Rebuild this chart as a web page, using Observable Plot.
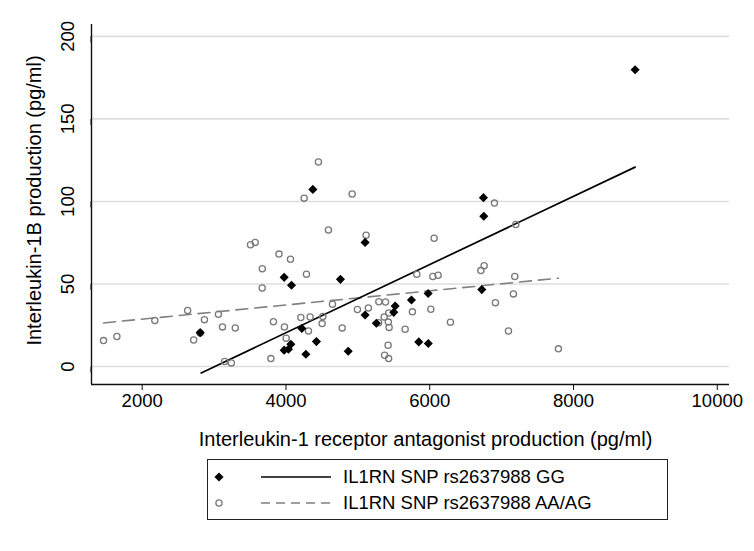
<!DOCTYPE html>
<html><head><meta charset="utf-8">
<script src="https://cdn.jsdelivr.net/npm/d3@7"></script>
<script src="https://cdn.jsdelivr.net/npm/@observablehq/plot@0.6"></script>
<style>
body{margin:0;background:#fff;font-family:"Liberation Sans",Arial,sans-serif;}
#wrap{position:relative;width:754px;height:551px;overflow:hidden;}
#wrap svg{position:absolute;left:0;top:0;}
#legend{position:absolute;left:207px;top:459px;width:461px;height:61px;border:1.3px solid #222;box-sizing:border-box;background:#fff;}
</style></head><body><div id="wrap"></div>
<script>
// GG group (filled diamonds)
const ggX = [2807,3975,4077,4374,4221,3975,4035,4068,4277,4424,4758,4866,5101,5101,5257,5519,5500,5746,5848,5980,5978,6724,6747,6752,8857];
const ggY = [20.5,54,49.2,107.3,23.1,9.9,10.5,13.5,7.4,15.1,52.8,9.2,75.2,31.2,26.2,36.6,32.8,40.3,14.9,13.9,44.2,46.6,102.3,91,179.8];
// AA/AG group (open circles)
const agX = [1462,1648,2176,2632,2716,2807,2866,3061,3117,3295,3148,3240,3507,3572,3671,3669,3903,4063,4253,4921,4591,4285,5115,3826,3979,4003,3790,4207,4336,4313,4513,4503,4647,4782,4994,5146,5292,5385,5366,5430,5289,5424,5435,5658,5421,5372,5428,5759,5820,6015,6043,6117,6061,6288,6711,6757,6900,7197,7183,7164,6914,7095,7790,4452];
const agY = [15.7,18.2,27.8,33.9,16.1,20.3,28.4,31.7,24,23.3,3,2.2,73.8,75.2,59.3,47.6,68.1,65,102,104.5,82.7,55.9,79.5,27.1,23.9,17.1,4.8,29.7,30,21.5,30.3,26,37.7,23.4,34.5,35.5,39.2,39.1,30,32.4,26.5,26.9,23.7,22.6,12.9,6.8,4.8,33.1,55.9,34.7,54.5,55.3,77.7,26.8,58.1,61.1,99,86,54.5,44,38.7,21.5,10.7,123.9];
// fitted lines (endpoints)
const ggFitX = [2821,8857];
const ggFitY = [-3.9,120.8];
const agFitX = [1462,7790];
const agFitY = [26.4,53.5];
const xTicks = [2000,4000,6000,8000,10000];
const yTicks = [0,50,100,150,200];
const xDomain = [1295,10170];
const yDomain = [-10.9,207.2];
const xTitle = "Interleukin-1 receptor antagonist production (pg/ml)";
const yTitle = "Interleukin-1B production (pg/ml)";
const seriesLabels = ["IL1RN SNP rs2637988 GG","IL1RN SNP rs2637988 AA/AG"];

const gg = ggX.map((x,i)=>({x, y: ggY[i]}));
const ag = agX.map((x,i)=>({x, y: agY[i]}));
const ggFit = ggFitX.map((x,i)=>({x, y: ggFitY[i]}));
const agFit = agFitX.map((x,i)=>({x, y: agFitY[i]}));

const font = '"Liberation Sans", Arial, sans-serif';
const chart = Plot.plot({
  width: 754, height: 551,
  marginLeft: 91, marginRight: 25, marginTop: 24, marginBottom: 167,
  x: {domain: xDomain},
  y: {domain: yDomain},
  style: {fontFamily: font, fontSize: "18.5px", color: "#000", background: "transparent"},
  marks: [
    Plot.gridY(yTicks, {stroke: "#dedede", strokeOpacity: 1, strokeWidth: 1.6}),
    Plot.ruleX([xDomain[0]], {stroke: "#111", strokeWidth: 1.4}),
    Plot.ruleY([yDomain[0]], {stroke: "#111", strokeWidth: 1.4}),
    Plot.axisX(xTicks, {tickSize: 6, tickPadding: 3, label: null, tickFormat: d => String(d), fontSize: 18.5, stroke: "#111"}),
    Plot.axisY(yTicks, {tickSize: 6, tickPadding: 17, rotate: -90, textAnchor: "middle", label: null, tickFormat: d => String(d), fontSize: 18.5, stroke: "#111"}),
    Plot.line(agFit, {x: "x", y: "y", stroke: "#808080", strokeWidth: 1.6, strokeDasharray: "12,7"}),
    Plot.line(ggFit, {x: "x", y: "y", stroke: "#000", strokeWidth: 1.7}),
    Plot.dot(ag, {x: "x", y: "y", r: 3.1, stroke: "#7a7a7a", strokeWidth: 1.3, fill: "none"}),
    Plot.dot(gg, {x: "x", y: "y", r: 4.1, symbol: "diamond2", fill: "#000", stroke: "none"}),
    Plot.text([xTitle], {text: d => d, frameAnchor: "bottom", dx: 15, dy: 55, fontSize: 20, lineAnchor: "middle"}),
    Plot.text([yTitle], {text: d => d, frameAnchor: "left", dx: -57, dy: -4, rotate: -90, fontSize: 20, lineAnchor: "middle", textAnchor: "middle"})
  ]
});
const wrap = document.getElementById("wrap");
wrap.appendChild(chart);

// legend
const legend = document.createElement("div");
legend.id = "legend";
wrap.appendChild(legend);
const ls = d3.select(legend).append("svg").attr("width", 461).attr("height", 61).style("position","absolute").style("left","-1px").style("top","-1px");
const rows = [
  {label: seriesLabels[0], y: 18, kind: "gg"},
  {label: seriesLabels[1], y: 44, kind: "ag"}
];
rows.forEach(r => {
  if (r.kind === "gg") {
    ls.append("path").attr("d", d3.symbol(d3.symbolDiamond2, Math.PI*4.1*4.1)()).attr("transform", `translate(12,${r.y})`).attr("fill", "#000");
    ls.append("line").attr("x1", 54).attr("x2", 124).attr("y1", r.y).attr("y2", r.y).attr("stroke", "#000").attr("stroke-width", 1.7);
  } else {
    ls.append("circle").attr("cx", 12).attr("cy", r.y).attr("r", 3.1).attr("fill", "none").attr("stroke", "#7a7a7a").attr("stroke-width", 1.3);
    ls.append("line").attr("x1", 54).attr("x2", 124).attr("y1", r.y).attr("y2", r.y).attr("stroke", "#808080").attr("stroke-width", 1.6).attr("stroke-dasharray", "9,6");
  }
  ls.append("text").attr("x", 136).attr("y", r.y).attr("dy", "0.35em").attr("font-size", 18.5).attr("font-family", font).attr("fill", "#000").text(r.label);
});
</script></body></html>
